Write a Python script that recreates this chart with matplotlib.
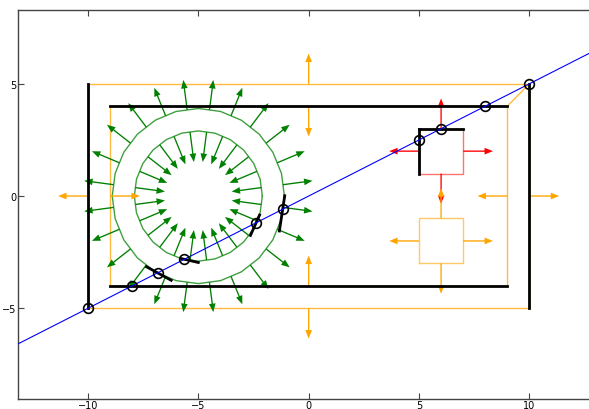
import numpy as np
import matplotlib
matplotlib.use("Agg")
import matplotlib.pyplot as plt

# cutting line
line_a = (-10, -5)
line_b = (10, 5)

# boxes: vertex lists, normal sign (+1 -> right-hand side of each edge)
outer_box = [(-10, -5), (-10, 5), (10, 5), (10, -5)]
inner_box = [(-9, -4), (9, -4), (9, 4), (-9, 4)]
bridge = [(10, 5), (9, 4)]
red_box = [(5, 1), (5, 3), (7, 3), (7, 1)]
orange_box = [(5, -3), (5, -1), (7, -1), (7, -3)]

# ring made of two 24-gons
ring_center = (-5, 0)
ring_radii = [3.9, 2.9]
ring_sides = 24
ring_signs = [1, -1]
# tangent extents of the cut marks, per ring, ordered by angle
ring_cut = [[(-0.57, 0.70), (-0.98, 0.61)],
            [(-0.15, 0.65), (-0.62, 0.38)]]

arrow_len = 1.35


def edges(poly):
    return [(np.array(poly[i], float), np.array(poly[(i + 1) % len(poly)], float))
            for i in range(len(poly))]


def normal(p, q, sign):
    d = q - p
    n = np.array([d[1], -d[0]]) / np.hypot(*d)
    return sign * n


def cross_line(x):
    a = np.array(line_a, float)
    b = np.array(line_b, float)
    return (b - a)[0] * (x - a)[1] - (b - a)[1] * (x - a)[0]


def hits(poly):
    out = []
    for i, (p, q) in enumerate(edges(poly)):
        fp, fq = cross_line(p), cross_line(q)
        if fp == fq:
            continue
        t = fp / (fp - fq)
        if 0 <= t < 1:
            out.append((i, p + t * (q - p)))
    return out


def ring_poly(r):
    ang = np.deg2rad(np.arange(ring_sides) * 360.0 / ring_sides)
    return [(ring_center[0] + r * np.cos(a), ring_center[1] + r * np.sin(a)) for a in ang]


def draw_poly(ax, poly, edge_color, alpha, arrow_color, sign, black=True):
    xs = [v[0] for v in poly] + [poly[0][0]]
    ys = [v[1] for v in poly] + [poly[0][1]]
    ax.plot(xs, ys, color=edge_color, alpha=alpha, lw=1.0, zorder=2)
    for p, q in edges(poly):
        m = (p + q) / 2
        n = normal(p, q, sign) * arrow_len
        ax.arrow(m[0], m[1], n[0], n[1], width=0.06, head_width=0.3,
                 head_length=0.38, length_includes_head=True,
                 fc=arrow_color, ec=arrow_color, lw=0, zorder=3)
    found = hits(poly)
    if black:
        es = edges(poly)
        for i, _ in found:
            p, q = es[i]
            ax.plot([p[0], q[0]], [p[1], q[1]], color='k', lw=2, zorder=4)
    return [h for _, h in found]


fig = plt.figure(figsize=(5.89, 4.10), dpi=100)
ax = fig.add_axes([18 / 589, 10 / 410, 1.0, 389.3 / 410])

ax.axline(line_a, line_b, color='blue', lw=0.8, zorder=5)

points = []
points += draw_poly(ax, outer_box, 'orange', 0.75, 'orange', -1)
points += draw_poly(ax, inner_box, 'orange', 0.75, 'orange', -1)
ax.plot([bridge[0][0], bridge[1][0]], [bridge[0][1], bridge[1][1]],
        color='orange', alpha=0.75, lw=1.0, zorder=2)
points += draw_poly(ax, red_box, 'red', 0.55, 'red', -1)
points += draw_poly(ax, orange_box, 'orange', 0.6, 'orange', -1)

for r, s, cuts in zip(ring_radii, ring_signs, ring_cut):
    poly = ring_poly(r)
    found = draw_poly(ax, poly, 'green', 0.75, 'green', s, black=False)
    found.sort(key=lambda h: np.arctan2(h[1] - ring_center[1], h[0] - ring_center[0]))
    for h, (s0, s1) in zip(found, cuts):
        th = np.arctan2(h[1] - ring_center[1], h[0] - ring_center[0])
        t = np.array([-np.sin(th), np.cos(th)])
        a, b = h + s0 * t, h + s1 * t
        ax.plot([a[0], b[0]], [a[1], b[1]], color='k', lw=2, zorder=4)
    points += found

# drop repeated hits (shared corners)
uniq = []
for p in points:
    if not any(np.allclose(p, u) for u in uniq):
        uniq.append(p)
ax.plot([p[0] for p in uniq], [p[1] for p in uniq], 'o', mfc='none',
        mec='k', ms=7, mew=1.2, zorder=6)

ax.set_xlim(-13.17, -13.17 + 589 / 22.07)
ax.set_ylim(-9.04, 8.30)
ax.set_xticks([-10, -5, 0, 5, 10])
ax.set_yticks([-5, 0, 5])
for sp in ax.spines.values():
    sp.set_color('#444444')
    sp.set_linewidth(1.0)
ax.tick_params(direction='in', length=4, width=0.8, color='#444444',
               labelsize=7, pad=1, top=True, right=True)

fig.savefig('out.png', dpi=100)
